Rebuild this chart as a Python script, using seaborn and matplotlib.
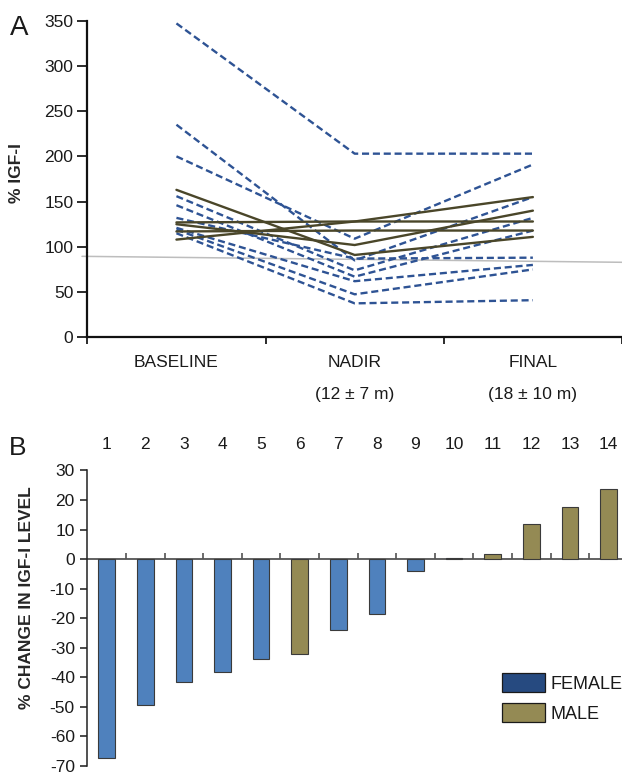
"""
plot.py
Two-panel IGF-I figure: % IGF-I per patient over visits (A) and % change per patient (B)
"""

import numpy as np
import pandas as pd
import matplotlib
matplotlib.use("Agg")
import matplotlib.pyplot as plt
from matplotlib.patches import Patch
import seaborn as sns

# ------------------ Data ------------------
# panel A: % IGF-I at the three visits, one entry per patient
visits = ["BASELINE", "NADIR", "FINAL"]
visit_notes = ["", "(12 ± 7 m)", "(18 ± 10 m)"]

female_baseline = [347, 235, 200, 156, 146, 132, 121, 119, 115]
female_nadir = [203, 85, 109, 74, 67, 87, 62, 47.5, 37.5]
female_final = [203, 155, 191, 132, 118, 88, 80, 75, 41]

male_baseline = [163, 127, 108, 117, 125]
male_nadir = [91, 128, 128, 118, 102]
male_final = [111, 128, 155, 118, 140]

# grey reference line across panel A
ref_x = [-0.53, 2.5]
ref_y = [89.5, 82.9]

# panel B: % change in IGF-I level per patient
patients = list(range(1, 15))
pct_change = [-67.3, -49.5, -41.5, -38.1, -33.9, -32.0, -24.1, -18.5, -3.9, 0.3, 1.8, 12.0, 17.5, 23.8]
sex = ["FEMALE"] * 5 + ["MALE"] + ["FEMALE"] * 4 + ["MALE"] * 4

# ------------------ Style ------------------
sns.set_style("ticks")
plt.rcParams["font.family"] = ["Liberation Sans", "DejaVu Sans"]
plt.rcParams["axes.unicode_minus"] = False
plt.rcParams["text.color"] = "#1a1a1a"
plt.rcParams["xtick.color"] = "#1a1a1a"
plt.rcParams["ytick.color"] = "#1a1a1a"

line_colors = {"FEMALE": "#2e5394", "MALE": "#4a4629"}
bar_colors = {"FEMALE": "#4f81bd", "MALE": "#948a54"}
legend_colors = {"FEMALE": "#264a80", "MALE": "#948a54"}

# long table for the line plot
rows = []
groups = [("FEMALE", female_baseline, female_nadir, female_final),
          ("MALE", male_baseline, male_nadir, male_final)]
for sx, b, n, f in groups:
    for i, vals in enumerate(zip(b, n, f)):
        for pos, v in enumerate(vals):
            rows.append({"patient": f"{sx}{i}", "sex": sx, "visit": pos, "igf": v})
df_a = pd.DataFrame(rows)

df_b = pd.DataFrame({"patient": patients, "change": pct_change, "sex": sex})

fig = plt.figure(figsize=(6.22, 7.75), dpi=100)

# ------------------ Panel A ------------------
ax_a = fig.add_axes([0.1404, 0.5648, 0.8596, 0.4085])
ax_a.plot(ref_x, ref_y, color="#bdbdbd", lw=1.1, clip_on=False, zorder=1)
sns.lineplot(data=df_a, x="visit", y="igf", units="patient", estimator=None,
             hue="sex", style="sex", hue_order=["FEMALE", "MALE"], style_order=["FEMALE", "MALE"],
             palette=line_colors, dashes={"FEMALE": (3.0, 1.6), "MALE": ""},
             linewidth=1.7, sort=False, legend=False, ax=ax_a, zorder=3)

ax_a.set_xlim(-0.5, 2.5)
ax_a.set_ylim(0, 350)
ax_a.set_yticks(range(0, 351, 50))
ax_a.set_xticks([-0.5, 0.5, 1.5, 2.5])
ax_a.set_xticklabels([])
ax_a.set_xticks(range(3), minor=True)
ax_a.set_xticklabels([v + ("\n" + note if note else "") for v, note in zip(visits, visit_notes)],
                     minor=True, fontsize=12.5, linespacing=2.35)
ax_a.tick_params(axis="x", which="major", direction="out", length=5, width=1.3)
ax_a.tick_params(axis="x", which="minor", length=0, pad=13)
ax_a.tick_params(axis="y", direction="out", length=7, width=1.3, labelsize=12.5, pad=3)
for side in ["top", "right"]:
    ax_a.spines[side].set_visible(False)
for side in ["left", "bottom"]:
    ax_a.spines[side].set_linewidth(1.6)
    ax_a.spines[side].set_color("#111111")
ax_a.set_xlabel("")
ax_a.set_ylabel("% IGF-I", fontsize=12.5, fontweight="bold")
ax_a.yaxis.set_label_coords(-0.118, 0.52)

# ------------------ Panel B ------------------
ax_b = fig.add_axes([0.1404, 0.0118, 0.8688, 0.3812])
sns.barplot(data=df_b, x="patient", y="change", hue="sex", hue_order=["FEMALE", "MALE"],
            palette=bar_colors, saturation=1, dodge=False, width=0.43,
            edgecolor="#3a3a3a", linewidth=0.8, legend=False, ax=ax_b, zorder=2)

ax_b.set_xlim(-0.5, 13.5)
ax_b.set_ylim(-70, 30)
ax_b.set_yticks(range(-70, 31, 10))
ax_b.set_xticks(range(14))
ax_b.set_xticklabels([str(p) for p in patients])
ax_b.set_xticks(np.arange(0.5, 13, 1), minor=True)
ax_b.tick_params(axis="x", which="major", bottom=False, top=False,
                 labelbottom=False, labeltop=True, labelsize=12.5, pad=10)
ax_b.tick_params(axis="x", which="minor", bottom=True, top=False, direction="in",
                 length=4, width=1.1, color="#444444")
ax_b.tick_params(axis="y", direction="out", length=5, width=1.1, labelsize=12.5, pad=4)
for side in ["top", "right"]:
    ax_b.spines[side].set_visible(False)
ax_b.spines["bottom"].set_position(("data", 0))
ax_b.spines["bottom"].set_color("#555555")
ax_b.spines["bottom"].set_linewidth(1.3)
ax_b.spines["bottom"].set_zorder(1)
ax_b.spines["left"].set_color("#222222")
ax_b.spines["left"].set_linewidth(1.1)
ax_b.set_xlabel("")
ax_b.set_ylabel("% CHANGE IN IGF-I LEVEL", fontsize=12.5, fontweight="bold")
ax_b.yaxis.set_label_coords(-0.099, 0.568)

handles = [Patch(facecolor=legend_colors[s], edgecolor="#1a1a1a", linewidth=0.9, label=s)
           for s in ["FEMALE", "MALE"]]
fig.legend(handles=handles, loc="upper left", bbox_to_anchor=(0.8076, 1 - 673.3 / 775),
           frameon=False, fontsize=13, handlelength=2.36, handleheight=1.2,
           labelspacing=0.6, handletextpad=0.3, borderpad=0, borderaxespad=0)

# ------------------ Panel letters ------------------
fig.text(10 / 622, 1 - 35 / 775, "A", fontsize=20, va="baseline")
fig.text(8.5 / 622, 1 - 455 / 775, "B", fontsize=19, va="baseline")

fig.savefig("out.png", dpi=100)
